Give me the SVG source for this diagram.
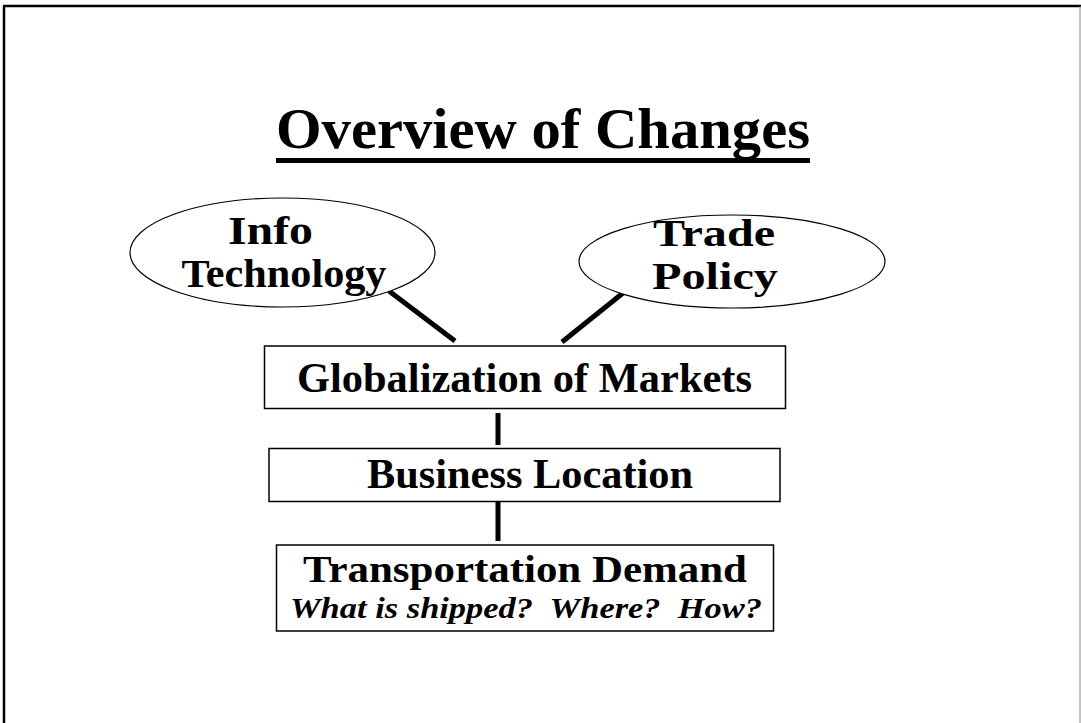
<svg xmlns="http://www.w3.org/2000/svg" width="1081" height="723" viewBox="0 0 1081 723">
<style>
.t{font-family:"Liberation Serif","Times New Roman",serif;font-weight:bold;fill:#000;text-anchor:middle}
.box{fill:#fff;stroke:#000;stroke-width:1.5}
.ell{fill:#fff;stroke:#000;stroke-width:1.2}
.con{stroke:#000;stroke-width:5;fill:none}
</style>
<rect x="0" y="0" width="1081" height="723" fill="#fff"/>
<g id="frame">
<line x1="4" y1="6" x2="4" y2="723" stroke="#000" stroke-width="2.5"/>
<line x1="3" y1="6" x2="1081" y2="6" stroke="#000" stroke-width="2.5"/>
<line x1="1080" y1="6" x2="1080" y2="723" stroke="#888" stroke-width="1"/>
</g>
<g id="title">
<text class="t" x="543" y="148" font-size="56" textLength="534" lengthAdjust="spacingAndGlyphs">Overview of Changes</text>
<rect x="276" y="158" width="534" height="5" fill="#000"/>
</g>
<g id="connectors">
<line class="con" x1="389" y1="291" x2="455" y2="341"/>
<line class="con" x1="623" y1="293" x2="562" y2="342"/>
<line class="con" x1="498" y1="413" x2="498" y2="445"/>
<line class="con" x1="498" y1="502" x2="498" y2="541"/>
</g>
<g id="info-technology">
<ellipse class="ell" cx="282.5" cy="252.5" rx="152.5" ry="54.5"/>
<text class="t" x="270.5" y="244" font-size="39" textLength="85" lengthAdjust="spacingAndGlyphs">Info</text>
<text class="t" x="284" y="287" font-size="39" textLength="205" lengthAdjust="spacingAndGlyphs">Technology</text>
</g>
<g id="trade-policy">
<ellipse class="ell" cx="732" cy="261.5" rx="153" ry="46.5"/>
<text class="t" x="714" y="246" font-size="38.5" textLength="122" lengthAdjust="spacingAndGlyphs">Trade</text>
<text class="t" x="715" y="289" font-size="38.5" textLength="126" lengthAdjust="spacingAndGlyphs">Policy</text>
</g>
<g id="globalization">
<rect class="box" x="264.5" y="346" width="521" height="62.5"/>
<text class="t" x="524.5" y="392" font-size="42" textLength="455" lengthAdjust="spacingAndGlyphs">Globalization of Markets</text>
</g>
<g id="business-location">
<rect class="box" x="269" y="448.5" width="511" height="53"/>
<text class="t" x="530" y="487.5" font-size="42" textLength="326" lengthAdjust="spacingAndGlyphs">Business Location</text>
</g>
<g id="transportation-demand">
<rect class="box" x="276.5" y="545" width="497" height="86"/>
<text class="t" x="525" y="582" font-size="38" textLength="444" lengthAdjust="spacingAndGlyphs">Transportation Demand</text>
<text class="t" x="526" y="618" font-size="30" font-style="italic" xml:space="preserve" style="white-space:pre" textLength="472" lengthAdjust="spacingAndGlyphs">What is shipped?  Where?  How?</text>
</g>
</svg>
